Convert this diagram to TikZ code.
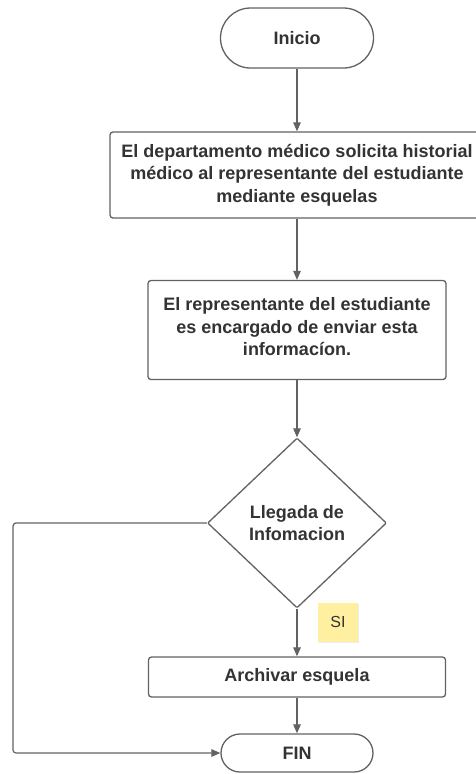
\documentclass[tikz,border=0pt]{standalone}
\usepackage{fontspec}
\setmainfont{Liberation Sans}
\usetikzlibrary{calc}
\usetikzlibrary{arrows.meta}
\usetikzlibrary{shapes.geometric}
\usetikzlibrary{shadows}
\usepackage{xcolor}
\definecolor{linegray}{HTML}{626262}
\definecolor{textgray}{HTML}{333333}
\definecolor{noteyellow}{HTML}{FFEFA0}

\begin{document}
\begin{tikzpicture}[x=1pt, y=-1pt,
  box/.style={draw=linegray, line width=1.3pt, rounded corners=3pt, fill=white,
    text=textgray, font=\fontsize{18}{22.5}\selectfont\bfseries, align=center, inner sep=0pt},
  decision/.style={box, diamond, rounded corners=1pt},
  note/.style={fill=noteyellow, text=textgray, font=\fontsize{16}{18}\selectfont,
    minimum width=40pt, minimum height=39pt, inner sep=0pt,
    drop shadow={opacity=0.15, shadow xshift=1pt, shadow yshift=-1.5pt}},
  arr/.style={draw=linegray, line width=1.2pt, ->, >={Stealth[length=9pt, width=7.5pt, inset=0pt]}}
]
\useasboundingbox (0,0) rectangle (475,774);

\node[box, rounded corners=30pt, minimum width=153pt, minimum height=60pt] (inicio) at (297,38) {Inicio};
\node[box, minimum width=374pt, minimum height=86pt] (solicita) at (297,175)
  {El departamento médico solicita historial\\médico al representante del estudiante\\mediante esquelas};
\node[box, minimum width=298pt, minimum height=99pt] (envia) at (297,330) {};
\node[text=textgray, font=\fontsize{18}{22.5}\selectfont\bfseries, align=center] (envia text) at (297,327)
  {El representante del estudiante\\es encargado de enviar esta\\informacíon.};
\node[decision, minimum width=179pt, minimum height=170pt] (llegada) at (297,523)
  {Llegada de\\Infomacion};
\node[box, minimum width=297pt, minimum height=40pt] (archivar) at (297,677) {Archivar esquela};
\node[box, rounded corners=19pt, minimum width=152pt, minimum height=38pt] (fin) at (297,753) {FIN};
\node[note] (si) at (338,622) {SI};
\coordinate (lado) at (13,0);

\draw[arr] (inicio) -- (solicita);
\draw[arr] (solicita) -- (envia);
\draw[arr] (envia) -- (llegada);
\draw[arr] (llegada) -- (archivar);
\draw[arr] (archivar) -- (fin);
\draw[arr, rounded corners=3pt] (llegada.west) -- (llegada.west -| lado) |- (fin.west);
\end{tikzpicture}
\end{document}
